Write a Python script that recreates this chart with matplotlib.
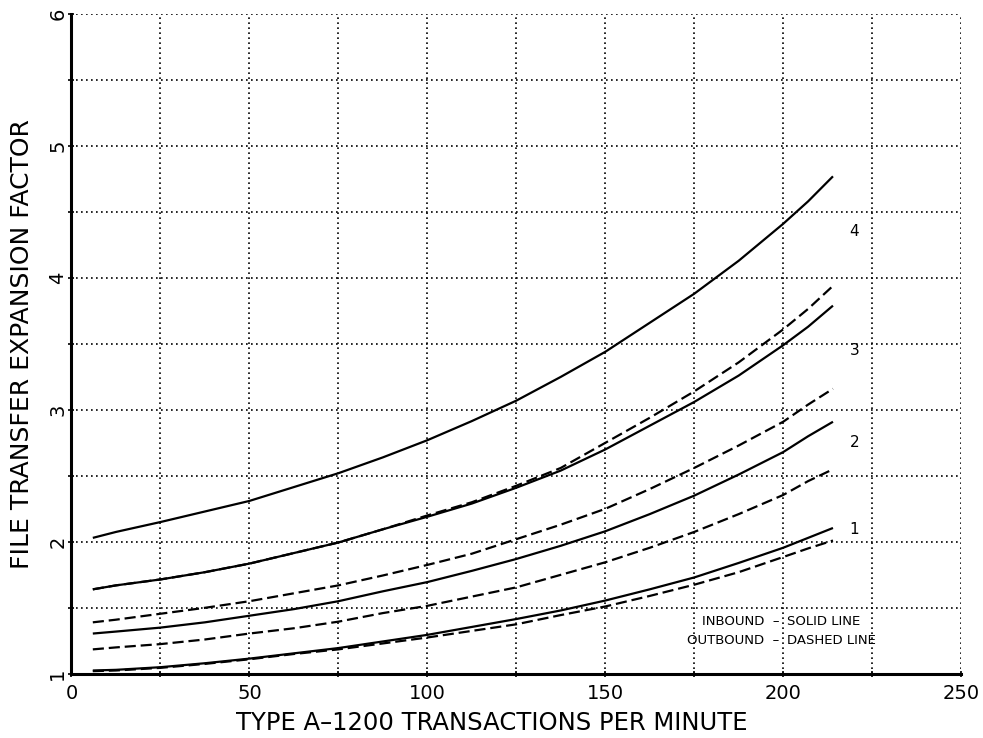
import matplotlib
matplotlib.use('Agg')
import matplotlib.pyplot as plt
from matplotlib.ticker import MultipleLocator

# transactions per minute at which the curves were read
rate = [6, 12.5, 25, 37.5, 50, 62.5, 75, 87.5, 100, 112.5, 125,
        137.5, 150, 162.5, 175, 187.5, 200, 207, 214]

# inbound (solid) and outbound (dashed) expansion factors, curves 1-4
inbound_1 = [1.025, 1.03, 1.05, 1.08, 1.115, 1.155, 1.195, 1.245, 1.295, 1.355,
             1.415, 1.48, 1.555, 1.64, 1.73, 1.84, 1.955, 2.03, 2.105]
outbound_1 = [1.02, 1.025, 1.045, 1.075, 1.11, 1.15, 1.185, 1.23, 1.275, 1.325,
              1.375, 1.445, 1.51, 1.59, 1.675, 1.77, 1.885, 1.95, 2.01]
inbound_2 = [1.305, 1.32, 1.35, 1.39, 1.44, 1.49, 1.55, 1.625, 1.695, 1.78,
             1.87, 1.97, 2.08, 2.21, 2.35, 2.51, 2.68, 2.80, 2.91]
outbound_2 = [1.185, 1.20, 1.225, 1.26, 1.305, 1.345, 1.395, 1.46, 1.515, 1.585,
              1.655, 1.75, 1.845, 1.955, 2.075, 2.21, 2.355, 2.46, 2.55]
inbound_3 = [1.64, 1.67, 1.715, 1.77, 1.835, 1.915, 1.995, 2.095, 2.19, 2.29,
             2.41, 2.54, 2.70, 2.88, 3.06, 3.26, 3.49, 3.63, 3.79]
outbound_3 = [1.39, 1.41, 1.455, 1.50, 1.55, 1.61, 1.67, 1.745, 1.825, 1.91,
              2.02, 2.13, 2.25, 2.40, 2.56, 2.73, 2.91, 3.04, 3.16]
inbound_4 = [2.03, 2.075, 2.15, 2.23, 2.31, 2.415, 2.52, 2.64, 2.77, 2.915,
             3.07, 3.25, 3.44, 3.66, 3.88, 4.13, 4.41, 4.58, 4.77]
outbound_4 = [1.64, 1.67, 1.715, 1.77, 1.835, 1.915, 1.995, 2.095, 2.20, 2.30,
              2.425, 2.56, 2.75, 2.94, 3.14, 3.36, 3.61, 3.765, 3.94]

curve_labels = ['1', '2', '3', '4']
label_y = [2.09, 2.75, 3.45, 4.35]

x_ticks = [0, 50, 100, 150, 200, 250]
y_ticks = [1, 2, 3, 4, 5, 6]

plt.rcParams['font.family'] = ['DejaVu Sans']

fig = plt.figure(figsize=(9.83, 7.38), dpi=100)
ax = fig.add_axes([0.0727, 0.087, 0.905, 0.894])

inbound = [inbound_1, inbound_2, inbound_3, inbound_4]
outbound = [outbound_1, outbound_2, outbound_3, outbound_4]
for s in inbound:
    ax.plot(rate, s, color='black', lw=1.6, solid_capstyle='butt')
for s in outbound:
    ax.plot(rate, s, color='black', lw=1.6, dashes=(5, 2.2))

for lab, yy in zip(curve_labels, label_y):
    ax.text(220, yy, lab, fontsize=11, ha='center', va='center')

ax.text(199, 1.40, 'INBOUND  \u2013', fontsize=9.5, ha='right', va='center')
ax.text(201, 1.40, 'SOLID LINE', fontsize=9.5, ha='left', va='center')
ax.text(199, 1.25, 'OUTBOUND  \u2013', fontsize=9.5, ha='right', va='center')
ax.text(201, 1.25, 'DASHED LINE', fontsize=9.5, ha='left', va='center')

ax.set_xlim(0, 250)
ax.set_ylim(1, 6)
ax.set_xticks(x_ticks)
ax.set_yticks(y_ticks)
ax.xaxis.set_minor_locator(MultipleLocator(25))
ax.yaxis.set_minor_locator(MultipleLocator(0.5))
ax.grid(which='both', color='black', linestyle=(0, (1, 2)), linewidth=1.2)
ax.set_axisbelow(True)

for side in ['top', 'right']:
    ax.spines[side].set_visible(False)
for side in ['left', 'bottom']:
    ax.spines[side].set_linewidth(2.2)

ax.tick_params(which='both', length=4, width=1.2, direction='inout', labelsize=14)
ax.tick_params(axis='x', pad=5)
ax.tick_params(axis='y', pad=1)
for t in ax.get_yticklabels():
    t.set_rotation(90)
    t.set_va('center')

ax.set_xlabel('TYPE A\u20131200 TRANSACTIONS PER MINUTE', fontsize=17.5)
ax.set_ylabel('FILE TRANSFER EXPANSION FACTOR', fontsize=18, labelpad=10)
ax.xaxis.set_label_coords(0.472, -0.057)

fig.savefig('out.png', dpi=100)
